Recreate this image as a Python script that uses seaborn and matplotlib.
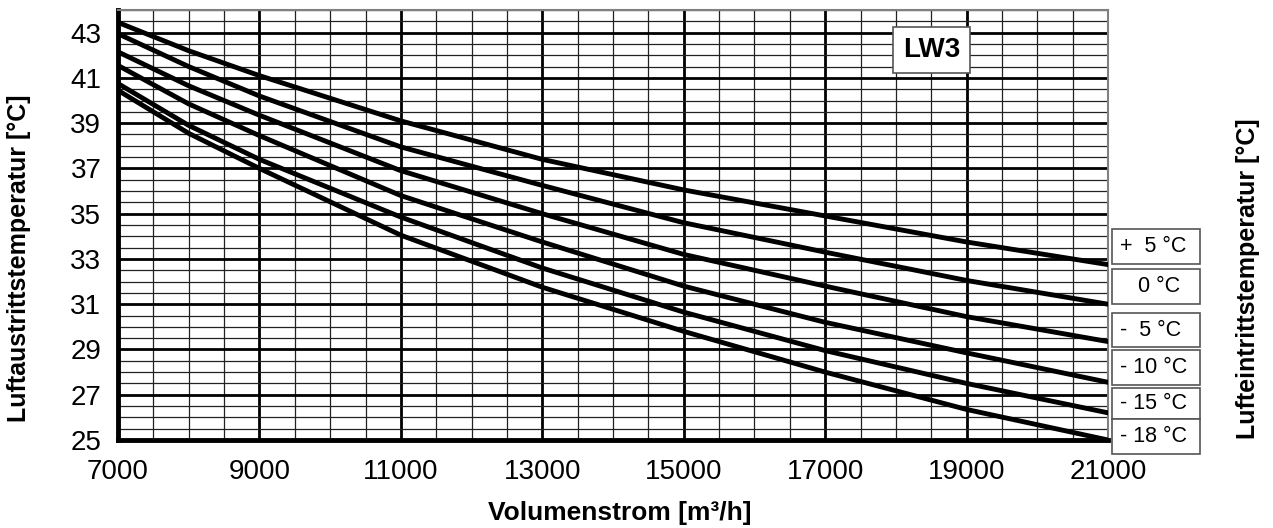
import numpy as np
import pandas as pd
import matplotlib
matplotlib.use("Agg")
import matplotlib.pyplot as plt
from matplotlib.patches import Rectangle
import seaborn as sns

volumenstrom = [7000, 8000, 9000, 11000, 13000, 15000, 17000, 19000, 21000]

# Luftaustrittstemperatur [°C] for each Lufteintrittstemperatur
t_plus5 = [43.45, 42.2, 41.1, 39.1, 37.4, 36.05, 34.9, 33.75, 32.75]
t_0 = [42.95, 41.5, 40.2, 37.95, 36.25, 34.6, 33.3, 32.05, 31.0]
t_minus5 = [42.15, 40.65, 39.35, 36.9, 35.0, 33.2, 31.8, 30.45, 29.35]
t_minus10 = [41.55, 39.85, 38.45, 35.8, 33.75, 31.8, 30.2, 28.85, 27.55]
t_minus15 = [40.75, 38.9, 37.4, 34.85, 32.6, 30.65, 28.95, 27.5, 26.2]
t_minus18 = [40.45, 38.55, 37.0, 34.05, 31.75, 29.8, 28.0, 26.35, 25.0]

labels = ["+  5 °C", "   0 °C", "-  5 °C", "- 10 °C", "- 15 °C", "- 18 °C"]
series = [t_plus5, t_0, t_minus5, t_minus10, t_minus15, t_minus18]

x_ticks = list(range(7000, 21001, 2000))
y_ticks = list(range(25, 44, 2))

df = pd.concat([
    pd.DataFrame({"volumenstrom": volumenstrom, "temp": vals, "eintritt": lab})
    for lab, vals in zip(labels, series)
])

sns.set_style("white")
plt.rcParams["font.family"] = ["Liberation Sans", "DejaVu Sans"]
plt.rcParams["text.color"] = "black"
plt.rcParams["xtick.color"] = "black"
plt.rcParams["ytick.color"] = "black"

W, H = 1273, 528
fig = plt.figure(figsize=(W / 100, H / 100), dpi=100)
ax = fig.add_axes([118 / W, 88 / H, 990 / W, 430 / H])

sns.lineplot(data=df, x="volumenstrom", y="temp", hue="eintritt",
             palette=["black"] * 6, linewidth=3.5, legend=False, ax=ax,
             zorder=3)

ax.set_xlim(7000, 21000)
ax.set_ylim(25, 44)
ax.set_xticks(x_ticks)
ax.set_yticks(y_ticks)
ax.set_xticks(np.arange(7000, 21001, 500), minor=True)
ax.set_yticks(np.arange(25, 44.01, 0.5), minor=True)
ax.set_axisbelow(True)
ax.grid(which="major", color="black", linewidth=2.0)
ax.grid(which="minor", color="#222222", linewidth=0.9)

ax.tick_params(which="major", direction="out", length=7, width=3,
               labelsize=20, color="black", labelcolor="black")
ax.tick_params(axis="x", which="major", pad=7)
ax.tick_params(axis="y", which="major", pad=5)
ax.tick_params(which="minor", length=0)

for s in ["left", "bottom"]:
    ax.spines[s].set_linewidth(3.5)
    ax.spines[s].set_color("black")
for s in ["top", "right"]:
    ax.spines[s].set_linewidth(1.5)
    ax.spines[s].set_color("#808080")

ax.set_xlabel("")
ax.set_ylabel("")
fig.text(620 / W, 1 - 513 / H, "Volumenstrom [m³/h]", fontsize=19,
         fontweight="bold", ha="center", va="center")
fig.text(19 / W, 1 - 258 / H, "Luftaustrittstemperatur [°C]", rotation=90,
         fontsize=18, fontweight="bold", ha="center", va="center")
fig.text(1248 / W, 1 - 279 / H, "Lufteintrittstemperatur [°C]", rotation=90,
         fontsize=18, fontweight="bold", ha="center", va="center")

# LW3 box
ax.text(0.822, 0.907, "LW3", transform=ax.transAxes, fontsize=20,
        fontweight="bold", ha="center", va="center",
        bbox=dict(boxstyle="square,pad=0.35", facecolor="white",
                  edgecolor="#555555", linewidth=1.2), zorder=5)

# label boxes to the right of the curve ends
box_tops = [229, 269, 313, 350, 388, 419]
box_bots = [264, 304, 347, 385, 419, 454]
for lab, t, b in zip(labels, box_tops, box_bots):
    fig.add_artist(Rectangle((1112 / W, 1 - b / H), 88 / W, (b - t) / H,
                             transform=fig.transFigure, facecolor="white",
                             edgecolor="#555555", linewidth=1.2))
    fig.text(1120 / W, 1 - (t + b) / 2 / H, lab, fontsize=15.5,
             ha="left", va="center")

fig.savefig("out.png", dpi=100)
